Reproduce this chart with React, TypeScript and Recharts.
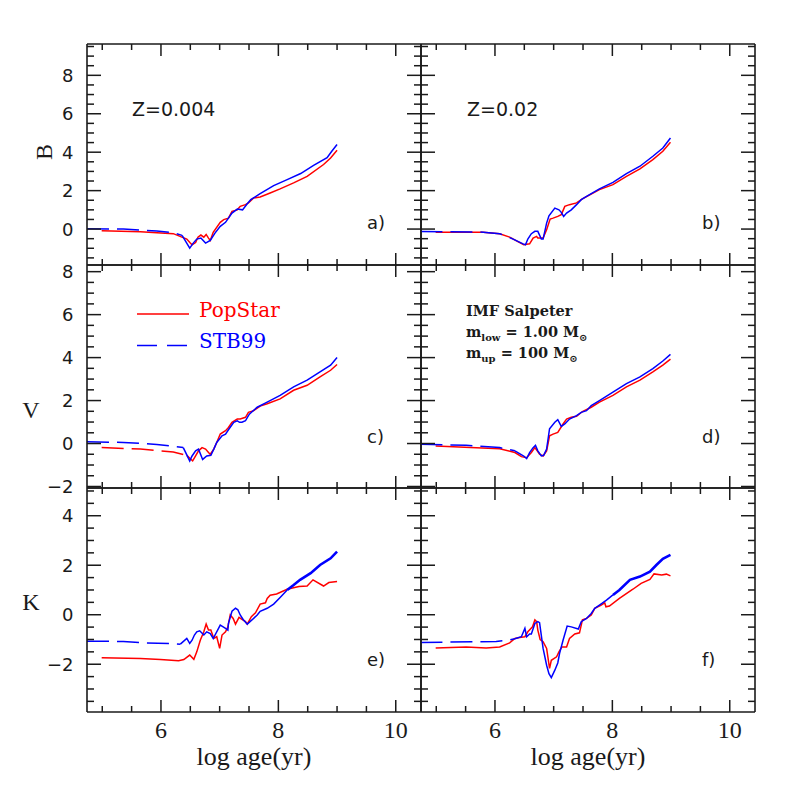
import React from 'react';
import { LineChart, Line, XAxis, YAxis } from 'recharts';

const RED = '#ff0000';
const BLUE = '#0000ff';
const INK = '#1a1a1a';

// axes
const AGE_DOMAIN: [number, number] = [4.74, 10.43];
const B_DOMAIN: [number, number] = [-1.87, 9.63];
const V_DOMAIN: [number, number] = [-2.07, 8.31];
const K_DOMAIN: [number, number] = [-3.93, 5.12];

const ageTicks = [5, 5.5, 6, 6.5, 7, 7.5, 8, 8.5, 9, 9.5, 10];
const bTicks = [-1.5, -1, -0.5, 0, 0.5, 1, 1.5, 2, 2.5, 3, 3.5, 4, 4.5, 5, 5.5, 6, 6.5, 7, 7.5, 8, 8.5, 9, 9.5];
const vTicks = [-2, -1.5, -1, -0.5, 0, 0.5, 1, 1.5, 2, 2.5, 3, 3.5, 4, 4.5, 5, 5.5, 6, 6.5, 7, 7.5, 8];
const kTicks = [-3.5, -3, -2.5, -2, -1.5, -1, -0.5, 0, 0.5, 1, 1.5, 2, 2.5, 3, 3.5, 4, 4.5, 5];

// a) B, Z=0.004
const aRedAge = [4.99, 5.65, 6.21, 6.44, 6.5, 6.53, 6.59, 6.63, 6.68, 6.73, 6.77, 6.81, 6.84, 6.89, 7.01, 7.07, 7.15, 7.21, 7.3, 7.35, 7.44, 7.49, 7.58, 7.69, 7.86, 8.03, 8.26, 8.49, 8.77, 8.89, 9.0];
const aRedB = [-0.09, -0.14, -0.24, -0.52, -0.73, -0.82, -0.7, -0.42, -0.31, -0.42, -0.28, -0.47, -0.59, -0.17, 0.35, 0.49, 0.57, 0.92, 1.0, 1.18, 1.27, 1.36, 1.62, 1.67, 1.88, 2.09, 2.4, 2.74, 3.36, 3.7, 4.1];
const aBlueAge = [4.74, 5.36, 5.93, 6.21, 6.36, 6.49, 6.55, 6.61, 6.68, 6.76, 6.84, 6.92, 7.01, 7.1, 7.21, 7.3, 7.39, 7.47, 7.53, 7.69, 7.92, 8.15, 8.38, 8.6, 8.83, 8.91, 9.0];
const aBlueB = [0.02, 0.0, -0.1, -0.19, -0.33, -0.99, -0.73, -0.52, -0.47, -0.73, -0.59, -0.21, 0.14, 0.35, 0.83, 1.04, 1.0, 1.32, 1.53, 1.84, 2.26, 2.57, 2.89, 3.31, 3.71, 4.05, 4.4];

// b) B, Z=0.02
const bRedAge = [4.99, 5.8, 6.08, 6.25, 6.39, 6.49, 6.59, 6.65, 6.71, 6.73, 6.82, 6.88, 6.94, 6.99, 7.07, 7.13, 7.19, 7.27, 7.39, 7.49, 7.78, 8.01, 8.24, 8.47, 8.69, 8.86, 8.99];
const bRedB = [-0.16, -0.16, -0.24, -0.42, -0.65, -0.82, -0.77, -0.47, -0.38, -0.47, -0.47, -0.03, 0.52, 0.57, 0.66, 0.75, 1.18, 1.27, 1.36, 1.57, 2.05, 2.31, 2.74, 3.13, 3.61, 4.05, 4.52];
const bBlueAge = [4.73, 5.8, 6.08, 6.31, 6.48, 6.52, 6.56, 6.62, 6.68, 6.73, 6.79, 6.82, 6.88, 6.92, 7.02, 7.09, 7.13, 7.17, 7.22, 7.3, 7.39, 7.47, 7.56, 7.78, 8.01, 8.24, 8.47, 8.69, 8.86, 8.99];
const bBlueB = [-0.12, -0.16, -0.24, -0.52, -0.77, -0.82, -0.52, -0.24, -0.12, -0.12, -0.52, -0.52, 0.31, 0.69, 1.09, 1.0, 0.87, 0.66, 0.83, 1.0, 1.27, 1.53, 1.7, 2.09, 2.43, 2.88, 3.27, 3.79, 4.22, 4.74];

// c) V, Z=0.004
const cRedAge = [4.99, 5.65, 6.21, 6.44, 6.54, 6.59, 6.64, 6.7, 6.76, 6.81, 6.84, 6.9, 6.95, 7.01, 7.1, 7.15, 7.21, 7.3, 7.35, 7.44, 7.49, 7.58, 7.69, 7.81, 8.03, 8.26, 8.49, 8.71, 8.89, 9.0];
const cRedV = [-0.19, -0.26, -0.39, -0.55, -0.81, -0.58, -0.34, -0.19, -0.26, -0.42, -0.5, -0.26, 0.05, 0.44, 0.6, 0.75, 0.99, 1.14, 1.14, 1.22, 1.45, 1.53, 1.74, 1.85, 2.08, 2.48, 2.71, 3.1, 3.41, 3.68];
const cBlueAge = [4.74, 5.36, 5.93, 6.38, 6.49, 6.53, 6.59, 6.64, 6.71, 6.78, 6.85, 6.9, 6.95, 7.04, 7.1, 7.15, 7.24, 7.3, 7.34, 7.38, 7.44, 7.49, 7.51, 7.64, 7.81, 8.03, 8.26, 8.49, 8.71, 8.89, 9.0];
const cBlueV = [0.08, 0.05, -0.04, -0.19, -0.81, -0.58, -0.34, -0.26, -0.74, -0.58, -0.55, -0.26, 0.05, 0.36, 0.44, 0.64, 0.99, 1.06, 0.99, 0.99, 1.06, 1.3, 1.38, 1.69, 1.93, 2.24, 2.64, 2.95, 3.33, 3.65, 4.0];

// d) V, Z=0.02
const dRedAge = [4.99, 6.08, 6.34, 6.45, 6.54, 6.62, 6.68, 6.72, 6.76, 6.82, 6.88, 6.93, 6.99, 7.07, 7.16, 7.22, 7.3, 7.39, 7.49, 7.64, 7.78, 8.01, 8.24, 8.47, 8.69, 8.86, 8.99];
const dRedV = [-0.11, -0.24, -0.42, -0.61, -0.66, -0.42, -0.19, -0.34, -0.5, -0.58, -0.34, 0.36, 0.44, 0.52, 0.91, 1.14, 1.22, 1.27, 1.49, 1.69, 1.93, 2.24, 2.64, 2.95, 3.33, 3.65, 3.93];
const dBlueAge = [4.73, 5.51, 6.08, 6.34, 6.49, 6.54, 6.59, 6.65, 6.69, 6.73, 6.79, 6.83, 6.88, 6.93, 7.02, 7.07, 7.13, 7.19, 7.27, 7.39, 7.47, 7.56, 7.64, 7.78, 8.01, 8.24, 8.47, 8.69, 8.86, 8.99];
const dBlueV = [-0.03, -0.08, -0.19, -0.34, -0.58, -0.7, -0.42, -0.19, -0.08, -0.34, -0.58, -0.55, -0.26, 0.69, 0.99, 1.11, 0.8, 0.91, 1.14, 1.3, 1.45, 1.53, 1.77, 2.0, 2.39, 2.79, 3.1, 3.49, 3.84, 4.15];

// e) K, Z=0.004
const eRedAge = [4.99, 5.65, 5.99, 6.3, 6.39, 6.49, 6.56, 6.61, 6.67, 6.73, 6.77, 6.81, 6.85, 6.9, 6.95, 7.0, 7.04, 7.1, 7.14, 7.18, 7.23, 7.27, 7.33, 7.38, 7.44, 7.47, 7.54, 7.61, 7.69, 7.78, 7.81, 7.86, 7.97, 8.15, 8.35, 8.49, 8.59, 8.77, 8.86, 9.0];
const eRedK = [-1.74, -1.77, -1.81, -1.86, -1.81, -1.63, -1.8, -1.5, -1.03, -0.69, -0.38, -0.62, -0.62, -0.96, -0.89, -1.36, -0.82, -0.69, -0.49, -0.01, -0.15, -0.38, -0.11, -0.19, -0.28, -0.38, -0.08, 0.08, 0.43, 0.48, 0.66, 0.79, 0.84, 1.03, 1.14, 1.16, 1.41, 1.16, 1.3, 1.34];
const eBlueAge = [4.74, 5.36, 5.76, 6.16, 6.33, 6.44, 6.49, 6.53, 6.57, 6.61, 6.66, 6.73, 6.78, 6.84, 6.89, 7.01, 7.06, 7.1, 7.14, 7.15, 7.21, 7.27, 7.31, 7.35, 7.4, 7.47, 7.55, 7.64, 7.69, 7.81, 7.92, 8.03, 8.15, 8.26, 8.37, 8.55, 8.71, 8.89, 9.0];
const eBlueK = [-1.07, -1.08, -1.14, -1.16, -1.19, -0.96, -1.16, -1.03, -0.82, -0.69, -0.65, -0.82, -0.69, -0.76, -0.96, -0.42, -0.49, -0.55, -0.62, -0.35, 0.14, 0.26, 0.2, -0.01, -0.19, -0.38, -0.21, -0.01, 0.14, 0.26, 0.43, 0.7, 1.0, 1.2, 1.41, 1.68, 2.01, 2.28, 2.55];

// f) K, Z=0.02
const fRedAge = [4.99, 5.51, 5.85, 6.08, 6.25, 6.34, 6.42, 6.51, 6.56, 6.64, 6.68, 6.71, 6.73, 6.77, 6.82, 6.88, 6.93, 6.96, 7.05, 7.09, 7.14, 7.22, 7.27, 7.36, 7.44, 7.49, 7.56, 7.64, 7.7, 7.81, 7.87, 7.89, 7.95, 8.12, 8.35, 8.49, 8.64, 8.71, 8.84, 8.92, 8.99];
const fRedK = [-1.34, -1.3, -1.34, -1.3, -1.14, -0.96, -0.92, -0.89, -0.69, -0.49, -0.21, -0.28, -0.62, -1.0, -1.09, -1.36, -2.17, -1.84, -1.7, -1.5, -1.3, -1.3, -0.96, -0.78, -0.73, -0.21, -0.15, -0.01, 0.26, 0.39, 0.48, 0.32, 0.35, 0.66, 1.03, 1.27, 1.43, 1.65, 1.61, 1.64, 1.57];
const fBlueAge = [4.73, 5.74, 6.02, 6.25, 6.34, 6.45, 6.51, 6.54, 6.59, 6.62, 6.68, 6.73, 6.76, 6.82, 6.88, 6.92, 6.96, 7.02, 7.07, 7.1, 7.16, 7.23, 7.3, 7.42, 7.47, 7.56, 7.64, 7.7, 7.78, 7.9, 8.01, 8.12, 8.3, 8.47, 8.64, 8.75, 8.86, 8.99];
const fBlueK = [-1.12, -1.09, -1.08, -1.02, -0.97, -0.89, -0.55, -0.89, -0.78, -0.78, -0.35, -0.28, -0.32, -1.36, -2.04, -2.38, -2.54, -2.24, -1.95, -1.57, -1.03, -0.46, -0.49, -0.58, -0.28, -0.15, 0.05, 0.26, 0.39, 0.59, 0.8, 1.0, 1.41, 1.54, 1.74, 2.01, 2.26, 2.42];

type Pt = { x: number; y: number };
type Series = { data: Pt[]; color: string; dash?: string; width?: number };

const zip = (ages: number[], mags: number[]): Pt[] => ages.map((x, i) => ({ x, y: mags[i] }));

// cut a curve into consecutive pieces that share their end points
function pieces(p: Pt[], cuts: number[]): Pt[][] {
  const out: Pt[][] = [];
  let cur: Pt[] = [];
  let ci = 0;
  for (const d of p) {
    cur.push(d);
    while (ci < cuts.length && d.x >= cuts[ci]) {
      out.push(cur);
      cur = [d];
      ci++;
    }
  }
  out.push(cur);
  return out;
}

const DASH = '22 8';

function stb(p: Pt[], dashEnd: number, thickFrom?: number): Series[] {
  const cuts = thickFrom ? [dashEnd, thickFrom] : [dashEnd];
  const [early, mid, late] = pieces(p, cuts);
  const s: Series[] = [
    { data: early, color: BLUE, dash: DASH },
    { data: mid, color: BLUE },
  ];
  if (late) s.push({ data: late, color: BLUE, width: 2.6 });
  return s;
}

const fmt = (v: number) => (v < 0 ? `\u2212${Math.abs(v)}` : `${v}`);

function tickFor(side: 'bottom' | 'top' | 'left' | 'right', labels: boolean) {
  return (p: any) => {
    const v = p.payload.value as number;
    const major = Math.abs(v % 2) < 1e-6;
    const vert = side === 'bottom' || side === 'top';
    const len = major ? (vert ? 12 : 14) : vert ? 6 : 7;
    const dx = side === 'left' ? len : side === 'right' ? -len : 0;
    const dy = side === 'bottom' ? -len : side === 'top' ? len : 0;
    return (
      <g>
        <line x1={p.x} y1={p.y} x2={p.x + dx} y2={p.y + dy} stroke={INK} strokeWidth={1.5} />
        {labels && major && side === 'bottom' && (
          <text x={p.x} y={p.y + 26} textAnchor="middle" fontFamily="Liberation Serif" fontSize={24} fill={INK}>
            {v}
          </text>
        )}
        {labels && major && side === 'left' && (
          <text x={p.x - 13.5} y={p.y} dy="0.36em" textAnchor="end" fontFamily="DejaVu Sans" fontSize={18} fill={INK}>
            {fmt(v)}
          </text>
        )}
      </g>
    );
  };
}

const COL_X = [87, 421];
const PANEL_W = 334;
const ROWS = [
  { top: 44, h: 221 },
  { top: 265, h: 223 },
  { top: 488, h: 224 },
];
// outer room around each plot box; each axis takes 1px of it
const ML = 70, MT = 20, MR = 20, MB = 60;
const AX = 1;
const frame = { stroke: INK, strokeWidth: 1.6 };

function Panel({ col, row, yDomain, yTicks, series }: { col: number; row: number; yDomain: [number, number]; yTicks: number[]; series: Series[] }) {
  const { top, h } = ROWS[row];
  const left = COL_X[col];
  const bottomRow = row === 2;
  const leftCol = col === 0;
  return (
    <div style={{ position: 'absolute', left: left - ML, top: top - MT }}>
      <LineChart width={PANEL_W + ML + MR} height={h + MT + MB}
        margin={{ top: MT - AX, right: MR - AX, bottom: MB - AX, left: ML - AX }}>
        <XAxis xAxisId="b" type="number" dataKey="x" domain={AGE_DOMAIN} allowDataOverflow ticks={ageTicks} interval={0}
          height={AX} tickSize={0} tickMargin={0} axisLine={frame} tickLine={false} tick={tickFor('bottom', bottomRow)} />
        <XAxis xAxisId="t" orientation="top" type="number" dataKey="x" domain={AGE_DOMAIN} allowDataOverflow ticks={ageTicks} interval={0}
          height={AX} tickSize={0} tickMargin={0} axisLine={frame} tickLine={false} tick={tickFor('top', false)} />
        <YAxis yAxisId="l" type="number" domain={yDomain} allowDataOverflow ticks={yTicks} interval={0}
          width={AX} tickSize={0} tickMargin={0} axisLine={frame} tickLine={false} tick={tickFor('left', leftCol)} />
        <YAxis yAxisId="r" orientation="right" type="number" domain={yDomain} allowDataOverflow ticks={yTicks} interval={0}
          width={AX} tickSize={0} tickMargin={0} axisLine={frame} tickLine={false} tick={tickFor('right', false)} />
        {series.map((s, i) => (
          <Line key={i} xAxisId="b" yAxisId="l" data={s.data} dataKey="y" type="linear" stroke={s.color}
            strokeWidth={s.width ?? 1.5} strokeDasharray={s.dash} dot={false} activeDot={false} isAnimationActive={false} />
        ))}
      </LineChart>
    </div>
  );
}

const serif = 'Liberation Serif';

export default function App() {
  const aRed = zip(aRedAge, aRedB);
  const bRed = zip(bRedAge, bRedB);
  const [cRedEarly, cRedLate] = pieces(zip(cRedAge, cRedV), [6.44]);
  const dRed = zip(dRedAge, dRedV);
  const eRed = zip(eRedAge, eRedK);
  const fRed = zip(fRedAge, fRedK);

  return (
    <div style={{ position: 'absolute', left: 0, top: 0, width: 797, height: 797, background: '#fff' }}>
      <Panel col={0} row={0} yDomain={B_DOMAIN} yTicks={bTicks}
        series={[{ data: aRed, color: RED }, ...stb(zip(aBlueAge, aBlueB), 6.36)]} />
      <Panel col={1} row={0} yDomain={B_DOMAIN} yTicks={bTicks}
        series={[{ data: bRed, color: RED }, ...stb(zip(bBlueAge, bBlueB), 6.31)]} />
      <Panel col={0} row={1} yDomain={V_DOMAIN} yTicks={vTicks}
        series={[{ data: cRedEarly, color: RED, dash: DASH }, { data: cRedLate, color: RED }, ...stb(zip(cBlueAge, cBlueV), 6.38)]} />
      <Panel col={1} row={1} yDomain={V_DOMAIN} yTicks={vTicks}
        series={[{ data: dRed, color: RED }, ...stb(zip(dBlueAge, dBlueV), 6.34)]} />
      <Panel col={0} row={2} yDomain={K_DOMAIN} yTicks={kTicks}
        series={[{ data: eRed, color: RED }, ...stb(zip(eBlueAge, eBlueK), 6.33, 8.15)]} />
      <Panel col={1} row={2} yDomain={K_DOMAIN} yTicks={kTicks}
        series={[{ data: fRed, color: RED }, ...stb(zip(fBlueAge, fBlueK), 6.34, 8.0)]} />

      <svg width={797} height={797} style={{ position: 'absolute', left: 0, top: 0, pointerEvents: 'none' }}>
        <g fontFamily="DejaVu Sans" fontSize={19} fill={INK}>
          <text x={132} y={115.5}>Z=0.004</text>
          <text x={467} y={115.5}>Z=0.02</text>
        </g>
        <g fontFamily="DejaVu Sans" fontSize={18} fill={INK}>
          <text x={367} y={229}>a)</text>
          <text x={702} y={229}>b)</text>
          <text x={367} y={443}>c)</text>
          <text x={702} y={443}>d)</text>
          <text x={367} y={666}>e)</text>
          <text x={702} y={666}>f)</text>
        </g>

        <line x1={137} x2={189} y1={314} y2={314} stroke={RED} strokeWidth={1.5} />
        <text x={199} y={316.5} fontFamily="DejaVu Serif" fontSize={20} fill={RED}>PopStar</text>
        <line x1={137} x2={189} y1={345.5} y2={345.5} stroke={BLUE} strokeWidth={1.5} strokeDasharray="20 10" />
        <text x={199} y={348} fontFamily="DejaVu Serif" fontSize={20} fill={BLUE}>STB99</text>

        <g fontFamily="DejaVu Serif" fontSize={14.5} fontWeight="bold" fill={INK} style={{ whiteSpace: 'pre' }}>
          <text x={466} y={316}>IMF Salpeter</text>
          <text x={466} y={336.5}>
            m<tspan fontSize={10} dy={4}>low</tspan>
            <tspan dy={-4}>{' = 1.00 M'}</tspan>
            <tspan fontSize={10} dy={4}>{'\u2299'}</tspan>
          </text>
          <text x={466} y={357.5}>
            m<tspan fontSize={10} dy={4}>up</tspan>
            <tspan dy={-4}>{' = 100 M'}</tspan>
            <tspan fontSize={10} dy={4}>{'\u2299'}</tspan>
          </text>
        </g>

        <g fontFamily={serif} fontSize={24} fill={INK} textAnchor="middle">
          <text x={44} y={152} dy="0.35em" transform="rotate(-90 44 152)">B</text>
          <text x={31} y={410} dy="0.35em">V</text>
          <text x={31} y={602} dy="0.35em">K</text>
        </g>
        <g fontFamily={serif} fontSize={26} fill={INK} textAnchor="middle">
          <text x={254} y={765}>log age(yr)</text>
          <text x={588} y={765}>log age(yr)</text>
        </g>
      </svg>
    </div>
  );
}
